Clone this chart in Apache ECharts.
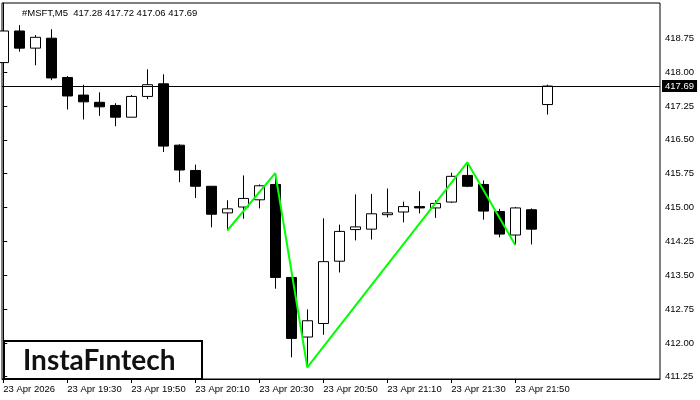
<!DOCTYPE html>
<html>
<head>
<meta charset="utf-8">
<script src="https://cdn.jsdelivr.net/npm/echarts@6/dist/echarts.min.js"></script>
<style>html,body{margin:0;padding:0;background:#fff}#c{width:700px;height:400px}</style>
</head>
<body>
<div id="c"></div>
<script>
var times = ['19:10','19:15','19:20','19:25','19:30','19:35','19:40','19:45','19:50','19:55',
  '20:00','20:05','20:10','20:15','20:20','20:25','20:30','20:35','20:40','20:45',
  '20:50','20:55','21:00','21:05','21:10','21:15','21:20','21:25','21:30','21:35',
  '21:40','21:45','21:50','21:55','22:00'];
var opens  = [418.21,418.91,418.53,418.75,417.88,417.49,417.33,417.26,417.00,417.46,
  417.74,416.38,415.82,415.47,414.88,415.01,415.17,415.51,413.45,412.13,
  412.43,413.81,414.51,414.52,414.84,414.90,415.02,414.99,415.12,415.71,
  415.51,414.91,414.39,414.95,417.28];
var closes = [418.91,418.53,418.77,417.87,417.47,417.34,417.23,417.00,417.46,417.72,
  416.36,415.83,415.47,414.85,414.97,415.20,415.48,413.45,412.10,412.49,
  413.80,414.47,414.57,414.86,414.88,415.02,414.99,415.09,415.69,415.47,
  414.92,414.41,414.99,414.52,417.69];
var lows   = [418.21,418.45,418.15,417.82,417.17,416.95,417.03,416.80,417.00,417.40,
  416.23,415.56,415.21,414.56,414.49,414.75,414.98,413.20,411.68,411.46,
  412.18,413.56,414.27,414.29,414.78,414.67,414.87,414.77,415.10,415.45,
  414.73,414.34,414.17,414.18,417.06];
var highs  = [419.08,419.04,418.82,418.95,417.91,417.72,417.55,417.31,417.49,418.06,
  417.95,416.40,415.95,415.47,415.16,415.71,415.51,415.76,413.45,412.74,
  414.76,414.62,415.29,415.30,415.42,415.13,415.36,415.16,415.77,416.00,
  415.60,414.97,415.01,414.98,417.72];
var zigIdx = [14,17,19,29,32];
var zigVal = [414.49,415.76,411.46,416.00,414.17];
var lastPrice = 417.69;
var yTicks = [411.25,412.00,412.75,413.50,414.25,415.00,415.75,416.50,417.25,418.00,418.75];
var xTickIdx = [0,4,8,12,16,20,24,28,32];
var xTickLabels = ['23 Apr 2026','23 Apr 19:30','23 Apr 19:50','23 Apr 20:10','23 Apr 20:30',
  '23 Apr 20:50','23 Apr 21:10','23 Apr 21:30','23 Apr 21:50'];
var header = '#MSFT,M5  417.28 417.72 417.06 417.69';

var candleData = times.map(function (t, i) { return [i, opens[i], closes[i], lows[i], highs[i]]; });
var zigData = zigIdx.map(function (x, i) { return [x, zigVal[i]]; });

var FONT = 'Liberation Sans';
var chart = echarts.init(document.getElementById('c'), null, {renderer: 'canvas'});
chart.setOption({
  animation: false,
  backgroundColor: '#fff',
  title: {
    text: header, left: 17, top: 3,
    textStyle: {fontSize: 9.5, fontWeight: 'normal', color: '#000', fontFamily: FONT}
  },
  grid: {left: 2, right: 40, top: 3, bottom: 21, show: true, borderColor: '#000', borderWidth: 1, backgroundColor: '#fff'},
  xAxis: {
    type: 'value', min: -0.08, max: 41.045,
    splitLine: {show: false},
    axisLine: {show: true, lineStyle: {color: '#000'}},
    axisTick: {show: true, customValues: xTickIdx, length: 4, lineStyle: {color: '#000'}},
    axisLabel: {
      customValues: xTickIdx, align: 'left', margin: 5, fontSize: 9.5, color: '#000', fontFamily: FONT,
      formatter: function (v) { var k = xTickIdx.indexOf(Math.round(v)); return k >= 0 ? xTickLabels[k] : ''; }
    }
  },
  yAxis: {
    type: 'value', position: 'right', min: 411.2, max: 419.53, scale: true,
    splitLine: {show: false},
    axisLine: {show: true, lineStyle: {color: '#000'}},
    axisTick: {show: true, customValues: yTicks, length: 4, lineStyle: {color: '#000'}},
    axisLabel: {
      customValues: yTicks, margin: 5, fontSize: 9.5, color: '#000', fontFamily: FONT,
      formatter: function (v) { return v.toFixed(2); }
    }
  },
  series: [
    {
      type: 'candlestick',
      data: candleData,
      encode: {x: 0, y: [1, 2, 3, 4]},
      barWidth: 10,
      itemStyle: {color: '#fff', color0: '#000', borderColor: '#000', borderColor0: '#000', borderWidth: 1},
      markLine: {
        silent: true, symbol: ['none', 'none'],
        lineStyle: {color: '#000', width: 1, type: 'solid'},
        label: {
          show: true, position: 'end', distance: 2,
          formatter: function (p) { return p.value.toFixed(2); },
          backgroundColor: '#000', color: '#fff', fontSize: 9.5, fontFamily: FONT, padding: [1, 3, 1, 3]
        },
        data: [{yAxis: lastPrice}]
      }
    },
    {
      type: 'line',
      data: zigData,
      showSymbol: false, symbol: 'none',
      lineStyle: {color: '#00ff00', width: 2},
      z: 5
    }
  ],
  graphic: [
    {
      type: 'group', left: 3, top: 340, z: 100,
      children: [
        {type: 'rect', shape: {x: 0, y: 0, width: 198, height: 38}, style: {fill: '#fff', stroke: '#000', lineWidth: 2}},
        {type: 'text', x: 19, y: 20, style: {text: 'InstaFıntech', font: 'bold 28px Lato', fill: '#111', textVerticalAlign: 'middle', verticalAlign: 'middle'}}
      ]
    }
  ]
});
</script>
</body>
</html>
